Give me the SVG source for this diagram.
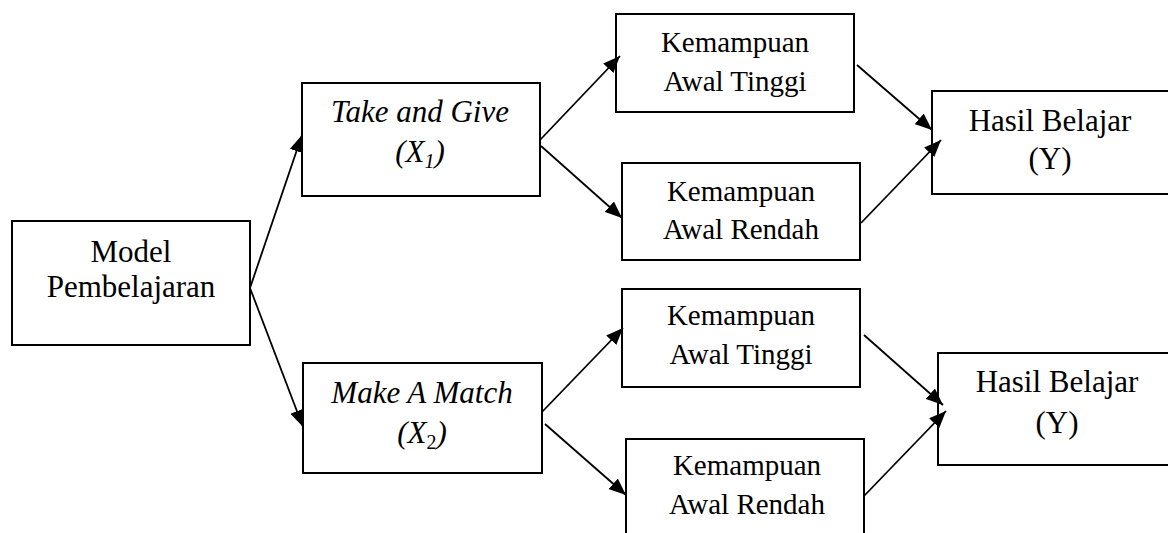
<svg xmlns="http://www.w3.org/2000/svg" width="1168" height="533" viewBox="0 0 1168 533" font-family="'Liberation Serif', 'DejaVu Serif', serif">
  <style>
    .box { fill: #fff; stroke: #000; stroke-width: 2; }
    .lbl { font-family: 'Liberation Serif', 'DejaVu Serif', serif; fill: #000; text-anchor: middle; }
    .big { font-size: 31px; }
    .sm { font-size: 29px; }
    .it { font-style: italic; }
    .conn line { stroke: #000; stroke-width: 1.8; marker-end: url(#arrow); }
  </style>
  <defs>
    <marker id="arrow" markerUnits="userSpaceOnUse" markerWidth="18" markerHeight="14" refX="17" refY="7" orient="auto">
      <path d="M0,0 L17,7 L0,14 z" fill="#000"/>
    </marker>
  </defs>
  <rect width="1168" height="533" fill="#fff"/>

  <g id="model">
    <rect class="box" x="12" y="221" width="238" height="124"/>
    <text class="lbl big" x="131" y="262">Model</text>
    <text class="lbl big" x="131" y="297">Pembelajaran</text>
  </g>

  <g id="take-and-give">
    <rect class="box" x="302" y="83" width="238" height="113"/>
    <text class="lbl big it" x="420" y="122">Take and Give</text>
    <text class="lbl big it" x="420" y="162">(X<tspan font-size="20" dy="6">1</tspan><tspan dy="-6">)</tspan></text>
  </g>

  <g id="make-a-match">
    <rect class="box" x="303" y="363" width="239" height="110"/>
    <text class="lbl big it" x="422" y="403">Make A Match</text>
    <text class="lbl big it" x="422" y="443">(X<tspan font-size="20" font-style="normal" dy="6">2</tspan><tspan dy="-6">)</tspan></text>
  </g>

  <g id="tinggi-1">
    <rect class="box" x="616" y="14" width="238" height="98"/>
    <text class="lbl sm" x="735" y="52">Kemampuan</text>
    <text class="lbl sm" x="735" y="91">Awal Tinggi</text>
  </g>

  <g id="rendah-1">
    <rect class="box" x="622" y="163" width="238" height="97"/>
    <text class="lbl sm" x="741" y="201">Kemampuan</text>
    <text class="lbl sm" x="741" y="239">Awal Rendah</text>
  </g>

  <g id="tinggi-2">
    <rect class="box" x="622" y="289" width="238" height="98"/>
    <text class="lbl sm" x="741" y="325">Kemampuan</text>
    <text class="lbl sm" x="741" y="364">Awal Tinggi</text>
  </g>

  <g id="rendah-2">
    <rect class="box" x="626" y="439" width="238" height="110"/>
    <text class="lbl sm" x="747" y="475">Kemampuan</text>
    <text class="lbl sm" x="747" y="514">Awal Rendah</text>
  </g>

  <g id="hasil-1">
    <rect class="box" x="932" y="91" width="240" height="103"/>
    <text class="lbl big" x="1050" y="131">Hasil Belajar</text>
    <text class="lbl big" x="1050" y="169">(Y)</text>
  </g>

  <g id="hasil-2">
    <rect class="box" x="938" y="353" width="240" height="112"/>
    <text class="lbl big" x="1057" y="392">Hasil Belajar</text>
    <text class="lbl big" x="1057" y="433">(Y)</text>
  </g>

  <g id="connectors" class="conn">
    <line x1="250" y1="288" x2="302" y2="135"/>
    <line x1="250" y1="288" x2="303" y2="427"/>
    <line x1="540" y1="140" x2="620" y2="56"/>
    <line x1="541" y1="146" x2="622" y2="218"/>
    <line x1="542" y1="412" x2="623" y2="328"/>
    <line x1="545" y1="424" x2="626" y2="495"/>
    <line x1="857" y1="65" x2="932" y2="130"/>
    <line x1="861" y1="223" x2="941" y2="140"/>
    <line x1="864" y1="335" x2="943" y2="405"/>
    <line x1="864" y1="496" x2="946" y2="411"/>
  </g>
</svg>
